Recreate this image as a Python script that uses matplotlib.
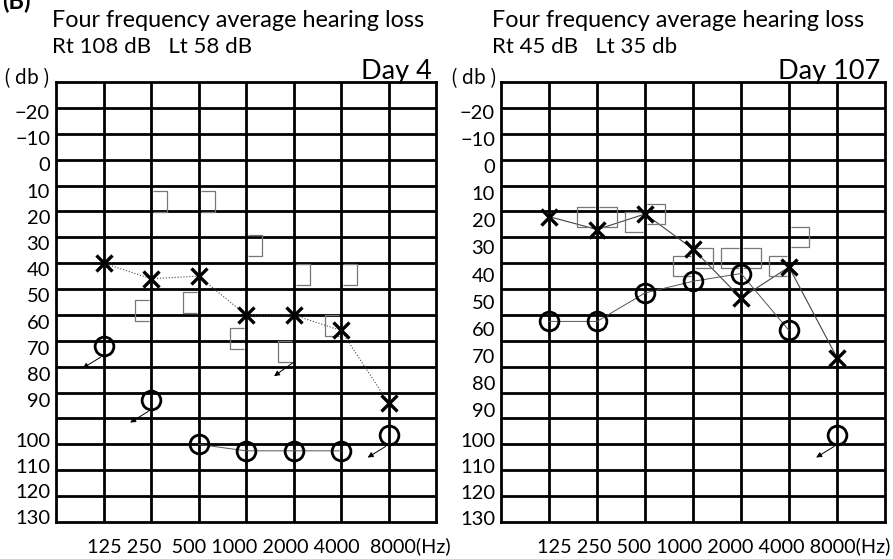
import numpy as np
import matplotlib.pyplot as plt
from matplotlib.path import Path
from matplotlib.transforms import offset_copy

# frequencies (Hz) on the audiogram columns
freqs = ["125", "250", "500", "1000", "2000", "4000", "8000"]
bone_freqs = ["250", "500", "1000", "2000", "4000"]

# Day 4, hearing level (dB)
d4_left_air = [40, 46, 45, 60, 60, 66, 94]
d4_right_air = [72, 93, 110, 112.5, 112.5, 112.5, 106.5]
d4_right_air_out = [True, True, False, False, False, False, True]
d4_right_bone = [58, 55, 69, 74, 64]
d4_right_bone_out = [False, False, False, True, False]
d4_left_bone = [16, 16, 33, 44, 44]

# Day 107
d107_left_air = [22, 27, 21, 34.5, 53.5, 41.5, 76.5]
d107_right_air = [62.5, 62.5, 51.5, 47, 44, 66, 106.5]
d107_right_air_out = [False, False, False, False, False, False, True]
d107_right_bone = [22, 24, 41, 38, 41]
d107_left_bone = [22, 21, 38, 38, 30]

ylabels = ["−20", "−10", "0", "10", "20", "30", "40", "50", "60", "70",
           "80", "90", "100", "110", "120", "130"]

plt.rcParams['font.family'] = ['Lato', 'DejaVu Sans']

W, H = 893, 559
fig = plt.figure(figsize=(W / 100, H / 100), dpi=100)


def px(x, y):
    return x / W, 1 - y / H


def bracket(side, w, h=21, shift=0):
    s = -1 if side == "[" else 1
    verts = [(shift, h / 2), (shift + s * w, h / 2), (shift + s * w, -h / 2), (shift, -h / 2)]
    codes = [Path.MOVETO, Path.LINETO, Path.LINETO, Path.LINETO]
    m = max(abs(v) for p in verts for v in p)
    return Path(verts, codes), 2 * m * 0.72


def scaleout_arrow(ax, x, y, start=(-2, -8), end=(-15, -16)):
    t0 = offset_copy(ax.transData, fig=fig, x=start[0], y=start[1], units='points')
    t1 = offset_copy(ax.transData, fig=fig, x=end[0], y=end[1], units='points')
    ax.annotate('', xy=(x, y), xycoords=t1, xytext=(x, y), textcoords=t0,
                arrowprops=dict(arrowstyle='-|>', color='k', lw=0.7,
                                mutation_scale=8, shrinkA=0, shrinkB=0),
                annotation_clip=False, zorder=6)


def audiogram(rect, left_air, right_air, right_out, right_bone, left_bone,
              bw, label_pos, right_bone_out=None, xline=':'):
    ax = fig.add_axes(rect)
    xs = np.arange(1, len(freqs) + 1)
    bx = np.array([freqs.index(f) + 1 for f in bone_freqs])
    ax.set_xlim(0, 8)
    ax.set_ylim(140, -30)
    ax.set_xticks([])
    ax.set_xticks(xs, minor=True)
    ax.set_yticks(np.arange(-20, 131, 10), minor=True)
    ax.set_yticks(label_pos, ylabels)
    ax.tick_params(which='both', length=0)
    ax.tick_params(axis='y', labelsize=14.5, pad=4.3)
    ax.grid(which='minor', color='k', lw=2)
    for s in ax.spines.values():
        s.set_linewidth(2)

    # left ear air conduction (X)
    ax.plot(xs, left_air, ls=xline, lw=0.8, color='#444', zorder=4)
    ax.plot(xs, left_air, ls='none', marker='x', ms=12, mew=2.4, color='k', zorder=5)

    # right ear air conduction (O)
    ra = np.array(right_air, dtype=float)
    conn = np.where(~np.array(right_out), ra, np.nan)
    ax.plot(xs, conn, lw=0.7, color='#555', zorder=4)
    ax.plot(xs, ra, ls='none', marker='o', ms=13.5, mew=2, mfc='none', color='k', zorder=5)
    for x, y, o in zip(xs, ra, right_out):
        if o:
            scaleout_arrow(ax, x, y)

    # bone conduction brackets
    pl, msl = bracket("[", bw, shift=-2)
    pr, msr = bracket("]", bw, shift=2)
    ax.plot(bx, right_bone, ls='none', marker=pl, ms=msl, mew=0.9, mfc='none',
            color='#777', zorder=4)
    ax.plot(bx, left_bone, ls='none', marker=pr, ms=msr, mew=0.9, mfc='none',
            color='#777', zorder=4)
    if right_bone_out:
        for x, y, o in zip(bx, right_bone, right_bone_out):
            if o:
                scaleout_arrow(ax, x, y, start=(0, -8), end=(-14, -18))
    return ax


def rect(x0, x1, y0=82, y1=522):
    return [x0 / W, 1 - y1 / H, (x1 - x0) / W, (y1 - y0) / H]


lab_left = list(np.linspace(-18.4, 92.9, 12)) + list(np.linspace(108.3, 138.1, 4))
lab_right = list(np.linspace(-18.4, 96.7, 12)) + list(np.linspace(108.3, 138.5, 4))

audiogram(rect(56, 436), d4_left_air, d4_right_air, d4_right_air_out,
          d4_right_bone, d4_left_bone, 14, lab_left, d4_right_bone_out)
audiogram(rect(501, 885), d107_left_air, d107_right_air, d107_right_air_out,
          d107_right_bone, d107_left_bone, 18, lab_right, xline='-')

# header texts
fig.text(*px(2, 9), "(B)", fontsize=17, fontweight='bold', va='baseline')
for x0, rt, day, xr, dbx in [(52, "Rt 108 dB   Lt 58 dB", "Day 4", 432, 27),
                             (492, "Rt 45 dB   Lt 35 db", "Day 107", 880, 474)]:
    fig.text(*px(x0, 27), "Four frequency average hearing loss", fontsize=16.8, va='baseline')
    fig.text(*px(x0, 53), rt, fontsize=16, va='baseline')
    fig.text(*px(xr, 79), day, fontsize=19.5, va='baseline', ha='right')
    fig.text(*px(dbx, 79), "( db )", fontsize=14, va='center', ha='center',
             family=['Noto Sans CJK JP', 'DejaVu Sans'])

fig.text(*px(87, 552), "125 250  500 1000 2000 4000  8000(Hz)", fontsize=14.3, va='baseline')
fig.text(*px(537, 552), "125 250 500 1000 2000 4000 8000(Hz)", fontsize=14.3, va='baseline')

fig.savefig("out.png", dpi=100)
